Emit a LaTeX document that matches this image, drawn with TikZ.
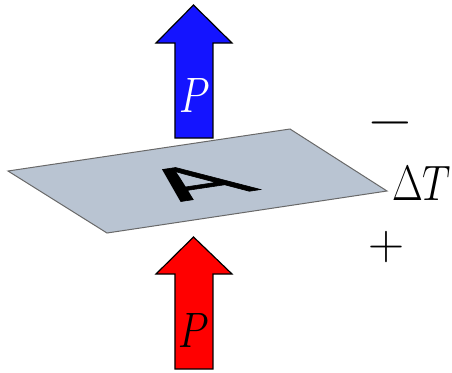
\documentclass[tikz,border=0pt]{standalone}
\usepackage{fontspec}
\usetikzlibrary{positioning}
\newfontfamily\platefont[FakeBold=1.2]{Liberation Sans}
\definecolor{plategray}{RGB}{185, 196, 210}
\definecolor{edgegray}{RGB}{105, 105, 105}
\definecolor{fluxblue}{RGB}{20, 20, 255}
\definecolor{fluxred}{RGB}{255, 0, 0}

\begin{document}
\begin{tikzpicture}[x=0.5pt, y=-0.5pt,
    fluxarrow/.style={draw=black, line width=0.6pt, line join=miter},
    bigmath/.style={font=\fontsize{27}{30}\selectfont, inner sep=0pt, xscale=0.8, transform shape},
    signmark/.style={inner sep=0pt}]
    \useasboundingbox (0, 0) rectangle (452, 372);

    % heat flux arrows
    \filldraw[fluxarrow, fill=fluxblue] (175, 138) -- (175, 43) -- (156, 43) -- (193.5, 5) -- (232, 43) -- (213, 43) -- (213, 138) -- cycle;
    \filldraw[fluxarrow, fill=fluxred] (175, 369) -- (175, 274) -- (156, 274) -- (193.5, 237) -- (232, 274) -- (213, 274) -- (213, 369) -- cycle;
    \node[bigmath, text=white] (Ptop) at (195, 95) {$P$};
    \node[bigmath] (Pbottom) at (194, 330.5) {$P$};

    % plate
    \filldraw[fill=plategray, draw=edgegray, line width=0.5pt] (8, 171) -- (290, 129) -- (387, 191) -- (107, 233) -- cycle;
    \node[font=\platefont\fontsize{40}{40}\selectfont, inner sep=0pt, cm={1.498, 0.225, -0.944, 0.490, (0, 0)}, transform shape] (area) at (195, 182) {A};

    % temperature difference
    \node[bigmath] (dT) at (421.5, 183.5) {$\Delta T$};
    \node[signmark, font=\fontsize{29}{32}\selectfont] (minus) at (390, 130) {−};
    \node[signmark, font=\fontsize{25}{28}\selectfont] (plus) at (387, 247) {+};
\end{tikzpicture}
\end{document}
